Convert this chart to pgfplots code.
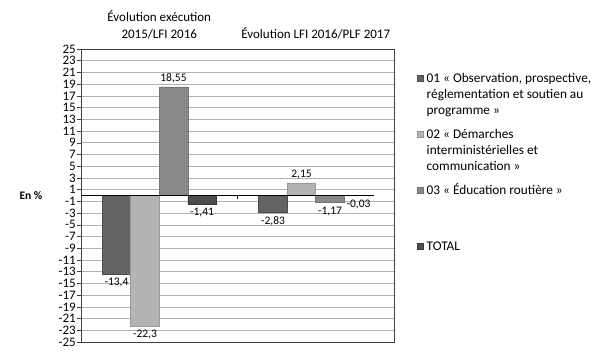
\documentclass[border=0pt]{standalone}
\usepackage{fontspec}
\setmainfont{Carlito}
\usepackage{pgfplots}
\pgfplotsset{compat=1.18}
\definecolor{cA}{HTML}{646464}
\definecolor{cB}{HTML}{B4B4B4}
\definecolor{cC}{HTML}{888888}
\definecolor{cD}{HTML}{4C4C4C}
\definecolor{gridc}{HTML}{B0B0B0}
\definecolor{framec}{HTML}{404040}
\newcommand{\lgd}[1]{\parbox[t]{6.2cm}{\raggedright\fontsize{13.3pt}{16pt}\selectfont\strut #1\strut}}
\begin{document}
\fontsize{11pt}{13pt}\selectfont
\begin{tikzpicture}[x=1pt,y=1pt]
\useasboundingbox (0,0) rectangle (606,357);
\begin{axis}[
  at={(81pt,15pt)}, anchor=south west,
  scale only axis, width=313pt, height=293pt,
  xmin=-0.5, xmax=1.5, ymin=-25, ymax=25,
  ybar=0pt, bar width=28.5pt,
  /pgf/number format/assume math mode=true,
  xtick={0,1},
  xticklabels={{Évolution exécution\\2015/LFI 2016},{Évolution LFI 2016/PLF 2017}},
  xticklabel pos=upper,
  x tick label style={align=center, font=\fontsize{13pt}{17pt}\selectfont, anchor=south, yshift=2pt},
  major x tick style={draw=none},
  ytick={-25,-23,...,25},
  ytick pos=left,
  tick align=outside,
  major tick length=4pt,
  y tick style={draw=framec, line width=0.5pt},
  y tick label style={font=\fontsize{13pt}{13pt}\selectfont, inner sep=1pt},
  ymajorgrids,
  grid style={draw=gridc, line width=0.6pt},
  axis line style={draw=framec, line width=0.7pt},
  ylabel={\bfseries En \%},
  ylabel style={rotate=-90, at={(rel axis cs:-0.16,0.5)}, anchor=center, font=\fontsize{11.5pt}{13pt}\selectfont},
  point meta=y,
  nodes near coords={\pgfmathprintnumber[fixed,use comma,precision=2]{\pgfplotspointmeta}},
  every node near coord/.append style={font=\fontsize{11.5pt}{13pt}\selectfont, inner sep=4pt},
  legend cell align=left,
  legend style={at={(rel axis cs:1.0735,0.928)}, anchor=north west, draw=none, fill=none,
    row sep=6pt, column sep=2pt, inner sep=0pt,
    nodes={inner sep=1pt, text height=11pt, text depth=37pt, anchor=base west}},
  legend image code/.code={\fill[#1] (0pt,1pt) rectangle (6pt,7pt);},
]
\addplot[fill=cA, draw=cA!75!black, line width=0.5pt] coordinates {(0,-13.4) (1,-2.83)};
\addplot[fill=cB, draw=cB!85!black, line width=0.5pt] coordinates {(0,-22.3) (1,2.15)};
\addplot[fill=cC, draw=cC!85!black, line width=0.5pt] coordinates {(0,18.55) (1,-1.17)};
\addplot[fill=cD, draw=cD!75!black, line width=0.5pt] coordinates {(0,-1.41) (1,-0.03)};
\legend{\lgd{01 « Observation, prospective,\\réglementation et soutien au\\programme »},
        \lgd{02 « Démarches\\interministérielles et\\communication »},
        \lgd{03 « Éducation routière »},
        \lgd{TOTAL}}
\draw[black, line width=0.8pt] (axis cs:-0.5,0) -- (axis cs:1.37,0);
\draw[black, line width=0.6pt] (axis cs:0.5,0) -- (axis cs:0.5,-0.6);
\end{axis}
\end{tikzpicture}
\end{document}
